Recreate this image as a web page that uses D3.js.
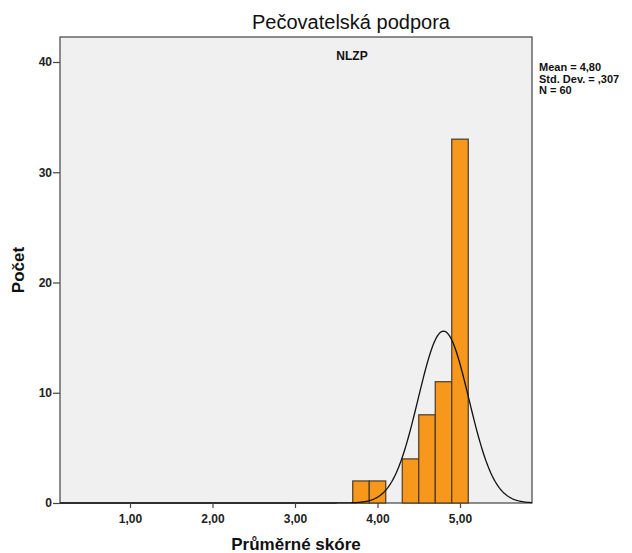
<!DOCTYPE html>
<html>
<head>
<meta charset="utf-8">
<script src="https://cdn.jsdelivr.net/npm/d3@7"></script>
<style>
  html, body { margin: 0; padding: 0; background: #ffffff; }
  svg { display: block; font-family: "Liberation Sans", Arial, sans-serif; }
</style>
</head>
<body>
<svg id="chart" width="632" height="553"></svg>
<script>
// Histogram of average scores with a fitted normal curve
const binStarts = [3.7, 3.9, 4.3, 4.5, 4.7, 4.9];
const binWidth = 0.2;
const counts = [2, 2, 4, 8, 11, 33];
const xTicks = [1, 2, 3, 4, 5];
const yTicks = [0, 10, 20, 30, 40];
const statLines = ["Mean = 4,80", "Std. Dev. = ,307", "N = 60"];
const mean = 4.80, sd = 0.307, n = 60;

const svg = d3.select("#chart");
const plot = { left: 60, right: 532, top: 37, bottom: 503 };

const x = d3.scaleLinear().domain([0, 5]).range([47.5, 460]);
const xMin = x.invert(plot.left), xMax = x.invert(plot.right);
const y = d3.scaleLinear().domain([0, 40]).range([503, 62]);

// plot area
svg.append("rect")
  .attr("x", plot.left).attr("y", plot.top)
  .attr("width", plot.right - plot.left).attr("height", plot.bottom - plot.top)
  .attr("fill", "#f0f0f0").attr("stroke", "#444").attr("stroke-width", 1.2);

// bars
svg.append("g").selectAll("rect")
  .data(binStarts.map((s, i) => ({ s, c: counts[i] })))
  .join("rect")
  .attr("x", d => x(d.s))
  .attr("y", d => y(d.c))
  .attr("width", d => x(d.s + binWidth) - x(d.s))
  .attr("height", d => y(0) - y(d.c))
  .attr("fill", "#f7981d")
  .attr("stroke", "#4a3a25")
  .attr("stroke-width", 1.2);

// normal curve scaled to counts per bin
const pts = d3.range(0, 401).map(i => {
  const v = xMin + (xMax - xMin) * i / 400;
  const dens = Math.exp(-0.5 * ((v - mean) / sd) ** 2) / (sd * Math.sqrt(2 * Math.PI));
  return [v, dens * n * binWidth];
});
svg.append("path")
  .attr("d", d3.line().x(d => x(d[0])).y(d => y(d[1]))(pts))
  .attr("fill", "none").attr("stroke", "#111").attr("stroke-width", 1.3);

// axes
const xAxis = svg.append("g").attr("transform", `translate(0,${plot.bottom})`)
  .call(d3.axisBottom(x).tickValues(xTicks).tickSize(5).tickSizeOuter(0)
    .tickFormat(d => d3.format(".2f")(d).replace(".", ",")));
xAxis.select(".domain").remove();
xAxis.selectAll("line").attr("stroke", "#444").attr("stroke-width", 1.2);
xAxis.selectAll("text").attr("font-size", 12).attr("font-weight", "bold")
  .attr("fill", "#222").attr("dy", "1.0em");

const yAxis = svg.append("g").attr("transform", `translate(${plot.left},0)`)
  .call(d3.axisLeft(y).tickValues(yTicks).tickSize(7).tickSizeOuter(0));
yAxis.select(".domain").remove();
yAxis.selectAll("line").attr("stroke", "#444").attr("stroke-width", 1.2);
yAxis.selectAll("text").attr("font-size", 12).attr("font-weight", "bold")
  .attr("fill", "#222").attr("x", -8);

// titles
svg.append("text").attr("x", 351).attr("y", 29).attr("text-anchor", "middle")
  .attr("font-size", 20).attr("fill", "#111").text("Pečovatelská podpora");
svg.append("text").attr("x", 352).attr("y", 60).attr("text-anchor", "middle")
  .attr("font-size", 12).attr("font-weight", "bold").attr("fill", "#111").text("NLZP");
svg.append("text").attr("x", 296).attr("y", 550).attr("text-anchor", "middle")
  .attr("font-size", 17).attr("font-weight", "bold").attr("fill", "#111").text("Průměrné skóre");
svg.append("text").attr("transform", "translate(24,270) rotate(-90)").attr("text-anchor", "middle")
  .attr("font-size", 17).attr("font-weight", "bold").attr("fill", "#111").text("Počet");

// statistics
svg.append("g").selectAll("text").data(statLines).join("text")
  .attr("x", 539).attr("y", (d, i) => 71 + i * 11.5)
  .attr("font-size", 11).attr("font-weight", "bold").attr("fill", "#111")
  .text(d => d);
</script>
</body>
</html>
